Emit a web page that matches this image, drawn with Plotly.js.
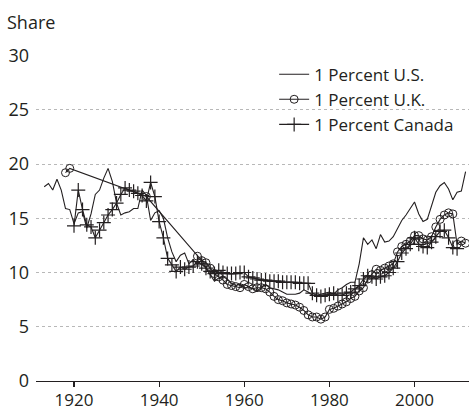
<!DOCTYPE html>
<html>
<head>
<meta charset="utf-8">
<script src="https://cdn.plot.ly/plotly-3.0.1.min.js"></script>
<style>html,body{margin:0;padding:0;background:#fff;}#chart{width:469px;height:411px;}</style>
</head>
<body>
<div id="chart"></div>
<script>
function yearsFrom(a, b) { var r = []; for (var y = a; y <= b; y++) r.push(y); return r; }

var usYears = yearsFrom(1913, 2012);
var usShare = [
  17.9, 18.2, 17.6, 18.6, 17.6, 15.9, 15.8, 14.5, 15.5, 15.6,
  14.1, 15.4, 17.2, 17.6, 18.7, 19.6, 18.4, 16.4, 15.3, 15.5,
  15.6, 15.9, 15.9, 17.6, 17.1, 14.8, 15.5, 15.7, 15.0, 13.2,
  11.9, 11.0, 11.6, 11.8, 10.8, 11.2, 10.7, 11.2, 10.4, 9.8,
  9.2, 9.5, 9.6, 9.4, 9.0, 8.8, 8.9, 8.6, 8.6, 8.5,
  8.3, 8.6, 8.9, 8.6, 8.5, 8.4, 8.2, 8.0, 8.0, 8.0,
  8.1, 8.4, 8.2, 7.9, 7.9, 8.0, 8.1, 8.2, 8.0, 8.4,
  8.6, 8.9, 9.1, 9.1, 10.8, 13.2, 12.6, 13.0, 12.2, 13.5,
  12.8, 12.9, 13.3, 14.1, 14.8, 15.3, 15.9, 16.5, 15.4, 14.7,
  14.9, 16.1, 17.4, 18.0, 18.3, 17.7, 16.7, 17.4, 17.5, 19.3
];

var ukYears = [1918, 1919, 1937].concat(yearsFrom(1949, 2012));
var ukShare = [
  19.2, 19.6, 17.0,
  11.5, 11.1, 10.9, 10.4, 9.9, 9.6, 9.3, 8.9, 8.8, 8.7, 8.6,
  8.9, 8.7, 8.5, 8.6, 8.6, 8.5, 8.2, 7.8, 7.5, 7.4,
  7.2, 7.1, 7.0, 6.8, 6.5, 6.1, 5.9, 5.9, 5.7, 5.9,
  6.6, 6.7, 6.9, 7.1, 7.3, 7.6, 7.8, 8.3, 8.6, 9.4,
  9.8, 10.3, 10.2, 10.4, 10.6, 10.8, 11.9, 12.4, 12.6, 12.9,
  13.4, 13.4, 13.1, 13.0, 13.3, 14.2, 14.9, 15.3, 15.5, 15.4,
  12.6, 12.9, 12.7
];

var caYears = yearsFrom(1920, 2010);
var caShare = [
  14.3, 17.6, 15.8, 14.4, 14.2, 13.2, 13.9, 14.6, 15.3, 15.8,
  16.4, 17.2, 17.8, 17.6, 17.5, 17.3, 17.1, 16.6, 18.3, 17.0,
  14.7, 13.2, 11.3, 10.7, 10.1, 10.5, 10.3, 10.5, 10.6, 11.0,
  10.8, 10.4, 10.1, 9.9, 10.2, 10.0, 9.9, 9.9, 9.9, 10.0,
  10.0, 9.6, 9.5, 9.4, 9.3, 9.3, 9.2, 9.2, 9.2, 9.1,
  9.1, 9.1, 9.1, 9.0, 9.0, 9.0, 8.1, 7.9, 7.8, 7.9,
  8.0, 8.1, 7.9, 7.9, 8.1, 8.2, 8.5, 8.8, 9.4, 9.7,
  9.6, 9.4, 9.6, 9.7, 10.0, 10.4, 11.0, 11.8, 12.2, 12.6,
  13.2, 12.6, 12.4, 12.3, 12.8, 13.3, 13.8, 13.9, 13.2, 12.3,
  12.2
];

var seriesNames = ['1 Percent U.S.', '1 Percent U.K.', '1 Percent Canada'];
var xTicks = [1920, 1940, 1960, 1980, 2000];
var yTicks = [0, 5, 10, 15, 20, 25, 30];

var ink = '#231f20';
var FONT = 'Open Sans, Noto Sans, sans-serif';

var traces = [
  {
    x: usYears, y: usShare, name: seriesNames[0], type: 'scatter', mode: 'lines',
    line: {color: ink, width: 1.1}
  },
  {
    x: ukYears, y: ukShare, name: seriesNames[1], type: 'scatter', mode: 'lines+markers',
    line: {color: ink, width: 1.1},
    marker: {symbol: 'circle-open', size: 8, color: ink, line: {width: 1, color: ink}}
  },
  {
    x: caYears, y: caShare, name: seriesNames[2], type: 'scatter', mode: 'lines+markers',
    line: {color: ink, width: 1.1},
    marker: {symbol: 'cross-thin-open', size: 10, color: ink, line: {width: 1.2, color: ink}}
  }
];

var layout = {
  width: 469, height: 411,
  margin: {l: 36, r: 0, t: 55, b: 30, pad: 0},
  paper_bgcolor: '#fff', plot_bgcolor: '#fff',
  font: {family: FONT, size: 17, color: ink},
  showlegend: true,
  legend: {
    x: 0.55, y: 0.995, xanchor: 'left', yanchor: 'top',
    bgcolor: 'rgba(0,0,0,0)', borderwidth: 0,
    font: {family: FONT, size: 17, color: ink},
    tracegroupgap: 0, itemwidth: 30
  },
  xaxis: {
    range: [1911.07, 2012.8],
    tickvals: xTicks, ticktext: xTicks.map(String),
    showgrid: false, zeroline: false,
    showline: true, linecolor: ink, linewidth: 1.2,
    ticks: 'outside', ticklen: 5, tickwidth: 1.2, tickcolor: ink,
    ticklabelstandoff: -2,
    tickfont: {family: FONT, size: 17, color: ink}
  },
  yaxis: {
    range: [0, 30.05],
    tickvals: yTicks, ticktext: yTicks.map(String),
    showgrid: true, gridcolor: '#b8b8b8', gridwidth: 1, griddash: 'dot',
    zeroline: false, showline: false, ticks: '',
    ticklabelstandoff: 6,
    tickfont: {family: FONT, size: 18, color: ink}
  },
  annotations: [{
    text: 'Share', xref: 'paper', yref: 'paper',
    x: -31 / 433, y: (381 - 22) / 326, xanchor: 'left', yanchor: 'middle',
    showarrow: false, font: {family: FONT, size: 18, color: ink}
  }]
};

Plotly.newPlot('chart', traces, layout, {displayModeBar: false, staticPlot: true});
</script>
</body>
</html>
